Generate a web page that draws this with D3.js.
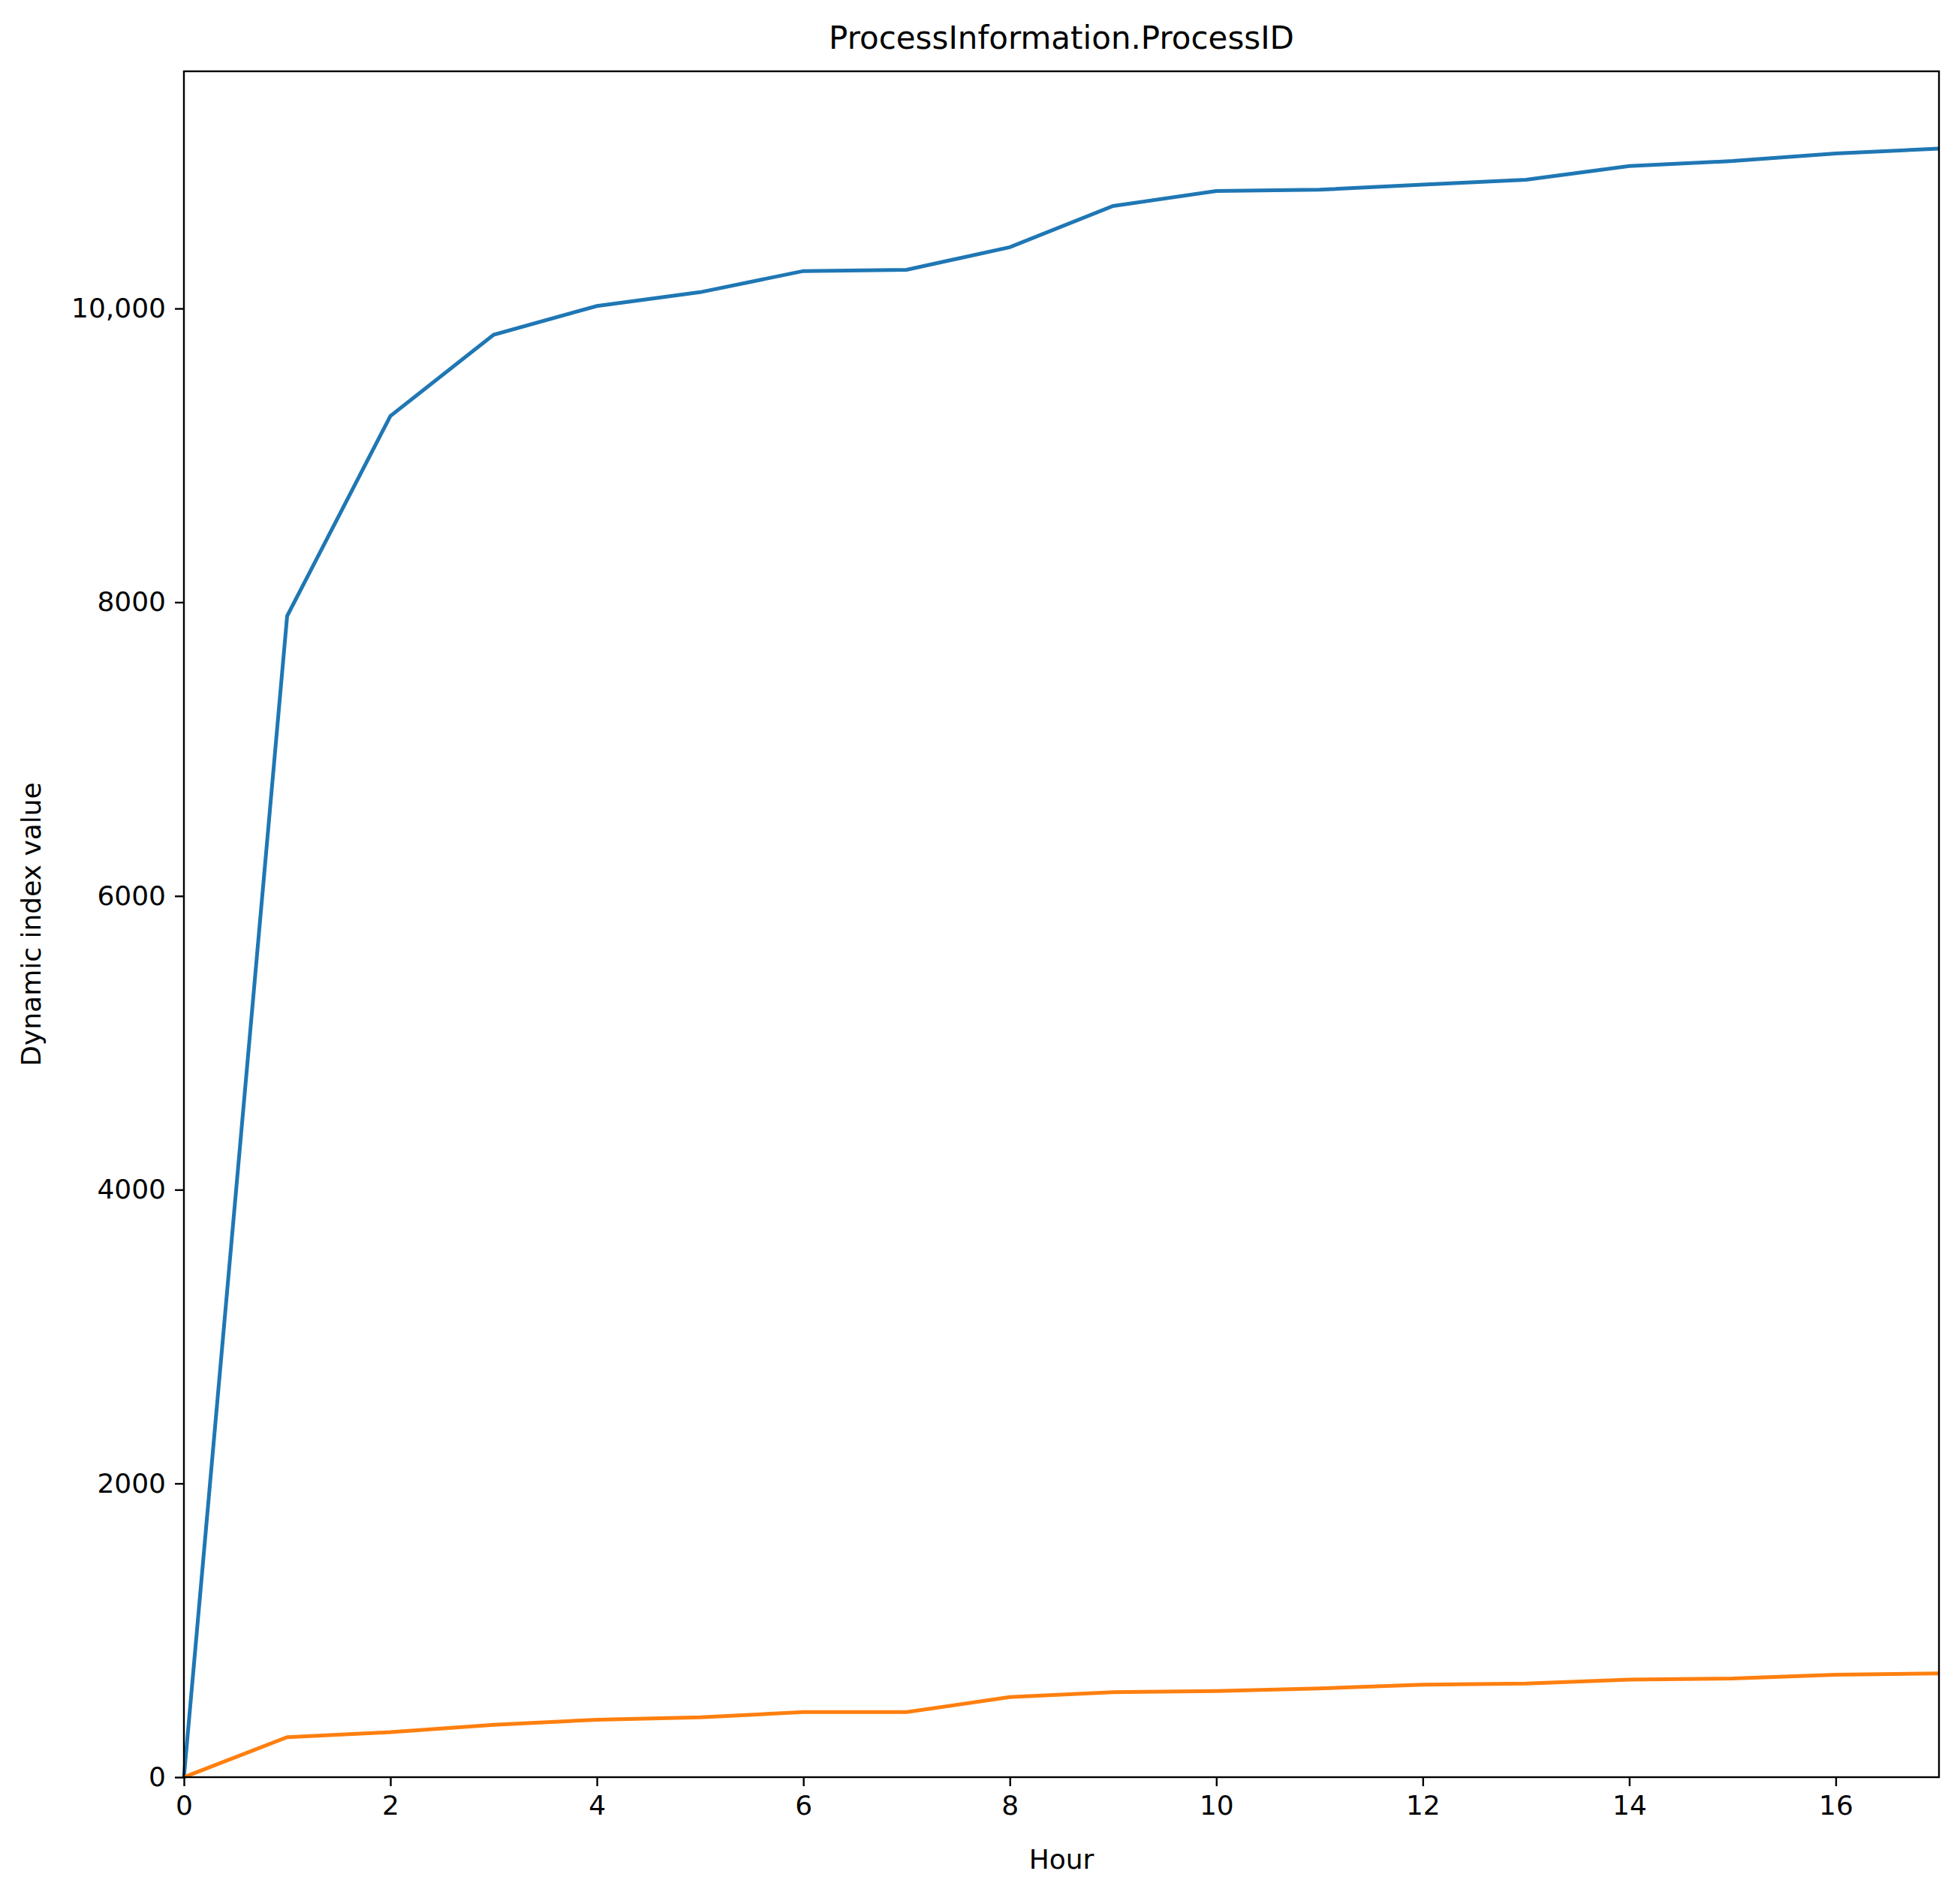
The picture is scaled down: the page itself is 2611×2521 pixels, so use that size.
<!DOCTYPE html>
<html><head><meta charset="utf-8">
<script src="https://cdn.jsdelivr.net/npm/d3@7"></script>
<style>body{margin:0;background:#fff}text{font-family:"DejaVu Sans",sans-serif}</style>
</head><body><svg id="chart" width="2611" height="2521"></svg>
<script>
const hours = [0,1,2,3,4,5,6,7,8,9,10,11,12,13,14,15,16,17];
const seriesBlue = [0,7906,9268,9821,10017,10111,10255,10264,10417,10698,10800,10809,10843,10877,10970,11004,11055,11089];
const seriesOrange = [0,272,306,357,391,408,443,443,545,579,587,604,630,638,664,672,698,706];
const xTicks = [0,2,4,6,8,10,12,14,16];
const yTicks = [0,2000,4000,6000,8000,10000];

const m = {left: 245, right: 2583, top: 95, bottom: 2368};
const svg = d3.select("#chart");
const x = d3.scaleLinear().domain([0, 17]).range([m.left, m.right]);
const y = d3.scaleLinear().domain([0, 11615]).range([m.bottom, m.top]);

const line = d3.line().x((d, i) => x(hours[i])).y(d => y(d));
[[seriesBlue, "#1f77b4"], [seriesOrange, "#ff7f0e"]].forEach(([s, c]) => {
    svg.append("path").datum(s).attr("d", line)
        .attr("fill", "none").attr("stroke", c).attr("stroke-width", 5);
});

const xAxis = svg.append("g").attr("transform", `translate(0,${m.bottom})`)
    .call(d3.axisBottom(x).tickValues(xTicks).tickSize(12).tickPadding(12));
const yAxis = svg.append("g").attr("transform", `translate(${m.left},0)`)
    .call(d3.axisLeft(y).tickValues(yTicks).tickSize(12).tickPadding(12)
        .tickFormat(d => d === 10000 ? "10,000" : d));
[xAxis, yAxis].forEach(a => {
    a.select(".domain").remove();
    a.selectAll("line").attr("stroke-width", 2.4);
    a.selectAll("text").attr("font-size", 36).attr("fill", "#000");
});

svg.append("rect").attr("x", m.left).attr("y", m.top)
    .attr("width", m.right - m.left).attr("height", m.bottom - m.top)
    .attr("fill", "none").attr("stroke", "#000").attr("stroke-width", 2.4);

svg.append("text").attr("x", (m.left + m.right) / 2).attr("y", 65)
    .attr("text-anchor", "middle").attr("font-size", 42).text("ProcessInformation.ProcessID");
svg.append("text").attr("x", (m.left + m.right) / 2).attr("y", 2490)
    .attr("text-anchor", "middle").attr("font-size", 36).text("Hour");
svg.append("text").attr("transform", `translate(54,${(m.top + m.bottom) / 2}) rotate(-90)`)
    .attr("text-anchor", "middle").attr("font-size", 36).text("Dynamic index value");
</script></body></html>
